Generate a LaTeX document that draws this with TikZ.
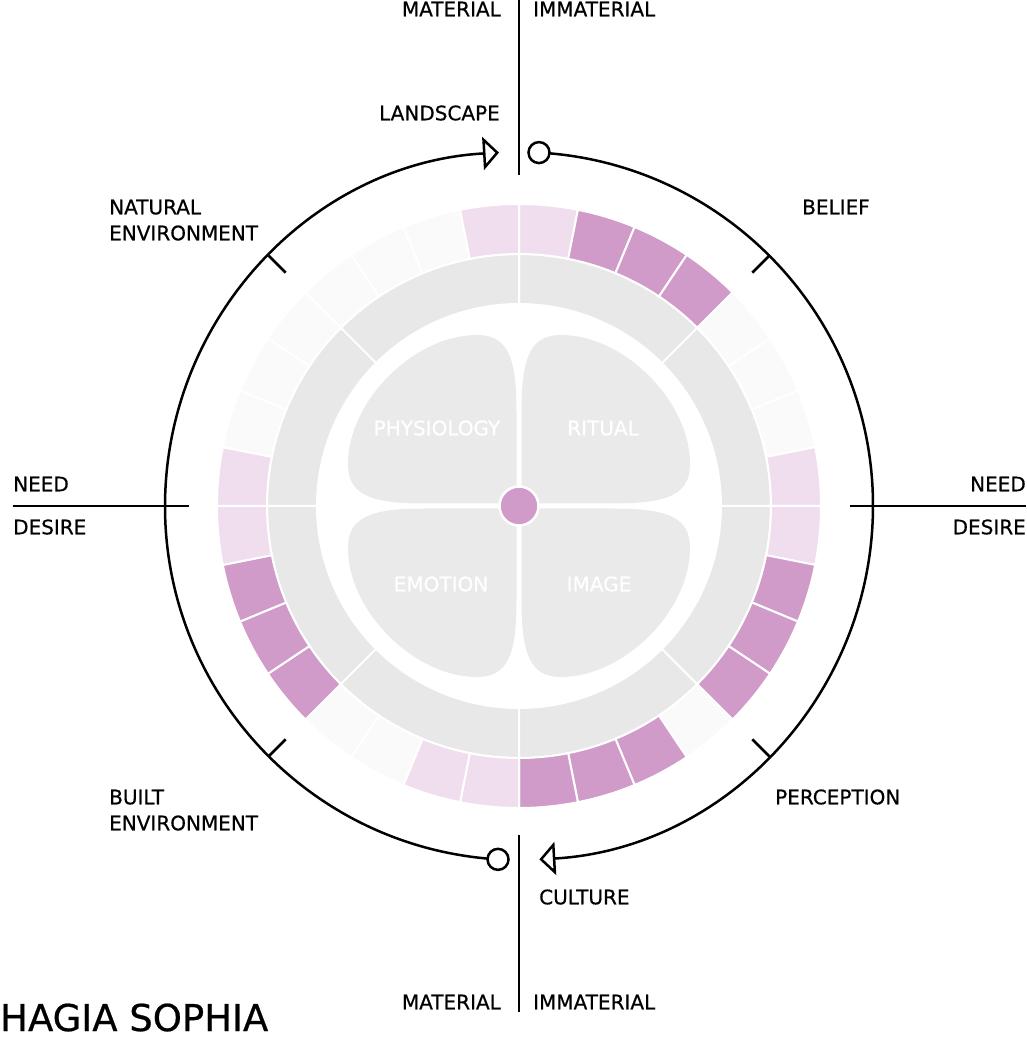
\documentclass[tikz,border=0pt]{standalone}
\usepackage{fontspec}
\setmainfont{DejaVu Sans}[FakeBold=0.6]
\usetikzlibrary{arrows.meta}
\definecolor{segP}{HTML}{D09BC8}
\definecolor{segL}{HTML}{F0DEEE}
\definecolor{segF}{HTML}{FAFAFA}
\definecolor{ringG}{HTML}{E8E8E8}
\definecolor{petalG}{HTML}{EAEAEA}
\begin{document}
\begin{tikzpicture}[x=1pt,y=1pt,
  lbl/.style={inner sep=0pt, font=\fontsize{20}{24}\selectfont, text height=14.6pt, text depth=0pt},
  plbl/.style={lbl, text=white},
  seg/.style={draw=white, line width=2pt},
  axis/.style={line width=2.7pt, draw=black},
  flow/.style={line width=2.5pt, -{Triangle[open, length=16pt, width=33pt, line width=2.5pt]}},
  marker/.style={circle, draw=black, line width=2.5pt, fill=white, minimum size=21pt, inner sep=0pt}]

\useasboundingbox (-519,-532) rectangle (507,506);

% gray ring
\foreach \i in {0,...,7} {
  \pgfmathsetmacro\aA{\i*45}
  \pgfmathsetmacro\aB{(\i+1)*45}
  \path[seg, fill=ringG] (\aA:202) arc[start angle=\aA, end angle=\aB, radius=202pt] -- (\aB:252) arc[start angle=\aB, end angle=\aA, radius=252pt] -- cycle;
}

% scored segments
\foreach \c [count=\i from 0] in {segL,segP,segP,segP,segF,segF,segF,segL,segL,segP,segP,segP,segF,segP,segP,segP,segL,segL,segF,segF,segP,segP,segP,segL,segL,segF,segF,segF,segF,segF,segF,segL} {
  \pgfmathsetmacro\aA{90-\i*11.25}
  \pgfmathsetmacro\aB{90-(\i+1)*11.25}
  \path[seg, fill=\c] (\aA:252) arc[start angle=\aA, end angle=\aB, radius=252pt] -- (\aB:302) arc[start angle=\aB, end angle=\aA, radius=302pt] -- cycle;
}

% petals
\foreach \sx/\sy in {1/1,-1/1,1/-1,-1/-1} {
  \fill[petalG, xscale=\sx, yscale=\sy] (-2.5,2.5) -- (-2.5,95) .. controls (-2.5,150) and (-12,171) .. (-42,171) .. controls (-105,171) and (-171,105) .. (-171,42) .. controls (-171,12) and (-150,2.5) .. (-95,2.5) -- cycle;
}
\node[plbl] (physio) at (-82,78) {PHYSIOLOGY};
\node[plbl] (ritual) at (84,78) {RITUAL};
\node[plbl] (emotion) at (-78,-78) {EMOTION};
\node[plbl] (image) at (80,-78) {IMAGE};
\node[circle, fill=segP, draw=white, line width=2.5pt, minimum size=39pt, inner sep=0pt] (hub) at (0,0) {};

% outer cycle
\coordinate (pTop) at (86.76:354);
\coordinate (pBot) at (266.6:354);
\draw[flow] (pBot) arc[start angle=266.6, end angle=93.24, radius=354pt];
\draw[flow] (pTop) arc[start angle=86.76, end angle=-86.7, radius=354pt];
\node[marker] (mTop) at (pTop) {};
\node[marker] (mBot) at (pBot) {};
\foreach \a in {45,135,225,315} \draw[axis] (\a:354) -- (\a:330);

% axes
\coordinate (vT1) at (0,331); \coordinate (vT2) at (0,506);
\coordinate (vB1) at (0,-329); \coordinate (vB2) at (0,-506);
\coordinate (hL1) at (-506,0); \coordinate (hL2) at (-330,0);
\coordinate (hR1) at (331,0); \coordinate (hR2) at (507,0);
\draw[axis] (vT1) -- (vT2);
\draw[axis] (vB1) -- (vB2);
\draw[axis] (hL1) -- (hL2);
\draw[axis] (hR1) -- (hR2);

% labels
\node[lbl, anchor=east] (matT) at (-18,497) {MATERIAL};
\node[lbl, anchor=west] (immT) at (14,497) {IMMATERIAL};
\node[lbl, anchor=east] (land) at (-19,393) {LANDSCAPE};
\node[lbl, anchor=west] (nat1) at (-410,299) {NATURAL};
\node[lbl, anchor=west] (nat2) at (-410,273) {ENVIRONMENT};
\node[lbl, anchor=west] (bel) at (283,299) {BELIEF};
\node[lbl, anchor=west] (needL) at (-506,22) {NEED};
\node[lbl, anchor=west] (desL) at (-506,-21) {DESIRE};
\node[lbl, anchor=east] (needR) at (507,22) {NEED};
\node[lbl, anchor=east] (desR) at (507,-21) {DESIRE};
\node[lbl, anchor=west] (bui1) at (-410,-291) {BUILT};
\node[lbl, anchor=west] (bui2) at (-410,-317) {ENVIRONMENT};
\node[lbl, anchor=west] (perc) at (256,-291) {PERCEPTION};
\node[lbl, anchor=west] (cult) at (20,-391) {CULTURE};
\node[lbl, anchor=east] (matB) at (-18,-496) {MATERIAL};
\node[lbl, anchor=west] (immB) at (14,-496) {IMMATERIAL};
\node[inner sep=0pt, anchor=base west, text depth=0pt, font=\fontsize{37}{42}\selectfont] (title) at (-519,-525) {HAGIA SOPHIA};
\end{tikzpicture}
\end{document}
